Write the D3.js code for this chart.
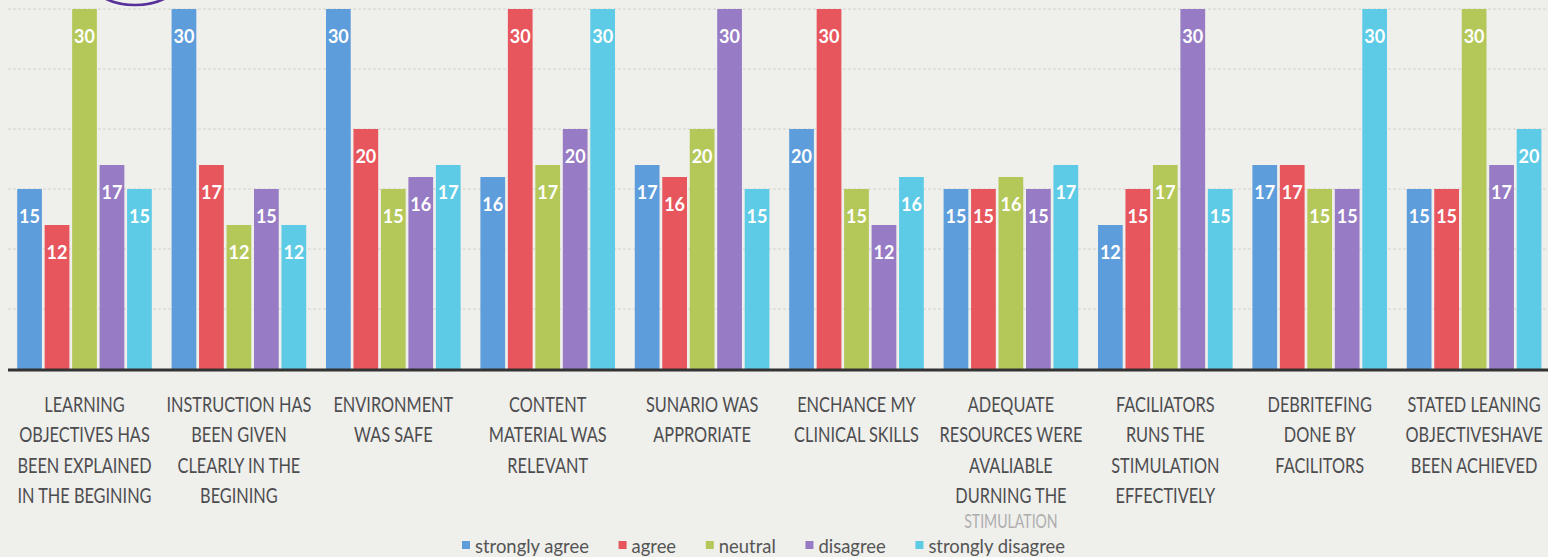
<!DOCTYPE html>
<html><head><meta charset="utf-8">
<script src="https://cdn.jsdelivr.net/npm/d3@7"></script>
<style>
html,body{margin:0;padding:0;background:#efefec;}
svg{display:block;}
</style></head>
<body>
<svg id="chart" width="1548" height="557"></svg>
<script>
const categories = [
  ["LEARNING","OBJECTIVES HAS","BEEN EXPLAINED","IN THE BEGINING"],
  ["INSTRUCTION HAS","BEEN GIVEN","CLEARLY IN THE","BEGINING"],
  ["ENVIRONMENT","WAS SAFE"],
  ["CONTENT","MATERIAL WAS","RELEVANT"],
  ["SUNARIO WAS","APPRORIATE"],
  ["ENCHANCE MY","CLINICAL SKILLS"],
  ["ADEQUATE","RESOURCES WERE","AVALIABLE","DURNING THE","STIMULATION"],
  ["FACILIATORS","RUNS THE","STIMULATION","EFFECTIVELY"],
  ["DEBRITEFING","DONE BY","FACILITORS"],
  ["STATED LEANING","OBJECTIVESHAVE","BEEN ACHIEVED"]
];
const seriesNames = ["strongly agree","agree","neutral","disagree","strongly disagree"];
const stronglyAgree    = [15,30,30,16,17,20,15,12,17,15];
const agree            = [12,17,20,30,16,30,15,15,17,15];
const neutral          = [30,12,15,17,20,15,16,17,15,30];
const disagree         = [17,15,16,20,30,12,15,30,15,17];
const stronglyDisagree = [15,12,17,30,15,16,17,15,30,20];
const yTicks = [5,10,15,20,25,30];

const seriesValues = [stronglyAgree, agree, neutral, disagree, stronglyDisagree];
const colors = ["#5e9ddb","#e7555d","#b4c85a","#977bc4","#5ecbe6"];

const svg = d3.select("#chart");
const catIdx = categories.map((d,i)=>i);

const x0 = d3.scaleBand().domain(catIdx).range([7.3, 1551.3]).paddingInner(0).paddingOuter(0);
const x1 = d3.scaleBand().domain(d3.range(seriesNames.length)).range([0, x0.bandwidth()])
  .paddingInner(0.1).paddingOuter(0.36);
const y = d3.scaleLinear().domain([0,30]).range([369, 9]);

// gridlines
svg.append("g").selectAll("line").data(yTicks).join("line")
  .attr("x1", 8).attr("x2", 1548)
  .attr("y1", d=>y(d)).attr("y2", d=>y(d))
  .attr("stroke", "#d2d2d0").attr("stroke-width", 1).attr("stroke-dasharray","3 2");

// pen mark at top
svg.append("ellipse").attr("cx",135).attr("cy",-22).attr("rx",46).attr("ry",27)
  .attr("fill","none").attr("stroke","#57309a").attr("stroke-width",2.6);

// bars
const groups = svg.append("g").selectAll("g").data(catIdx).join("g")
  .attr("transform", i=>`translate(${x0(i)},0)`);
groups.selectAll("rect").data(i=>seriesValues.map((s,k)=>({k, v:s[i]}))).join("rect")
  .attr("x", d=>x1(d.k)).attr("width", x1.bandwidth())
  .attr("y", d=>y(d.v)).attr("height", d=>y(0)-y(d.v))
  .attr("fill", d=>colors[d.k]);
groups.selectAll("text").data(i=>seriesValues.map((s,k)=>({k, v:s[i]}))).join("text")
  .attr("x", d=>x1(d.k)+x1.bandwidth()/2).attr("y", d=>y(d.v)+34)
  .attr("text-anchor","middle").attr("fill","#fff")
  .attr("font-family","Lato, 'Open Sans', sans-serif").attr("font-weight","bold").attr("font-size",18)
  .text(d=>d.v);

// baseline
svg.append("line").attr("x1",8).attr("x2",1548).attr("y1",y(0)+1).attr("y2",y(0)+1)
  .attr("stroke","#333").attr("stroke-width",3);

// category labels
const labelFont = "Lato, 'Open Sans', sans-serif";
const labG = svg.append("g");
const probe = labG.append("text").attr("font-family",labelFont).attr("font-size",22).text("INSTRUCTION HAS");
const sx = 145 / probe.node().getComputedTextLength();
probe.remove();
catIdx.forEach(i=>{
  const cx = x0(i) + x0.bandwidth()/2;
  const g = labG.append("g").attr("transform",`translate(${cx},0) scale(${sx},1)`);
  categories[i].forEach((line,j)=>{
    g.append("text").attr("x",0).attr("y",j===4 ? 528 : 412 + j*30.3)
      .attr("text-anchor","middle").attr("fill","#4d4d4f")
      .attr("font-family",labelFont).attr("font-size",j===4 ? 19 : 22)
      .attr("opacity", j===4 ? 0.4 : 1)
      .text(line);
  });
  const bb = g.node().getBoundingClientRect();
  if (bb.right > 1546) g.attr("transform",`translate(${cx-(bb.right-1546)},0) scale(${sx},1)`);
});

// legend
const legFont = 20;
const probe2 = svg.append("text").attr("font-family",labelFont).attr("font-size",legFont).text("strongly agree");
const lsx = 114 / probe2.node().getComputedTextLength();
probe2.remove();
const legG = svg.append("g");
const items = legG.selectAll("g").data(seriesNames).join("g");
items.append("rect").attr("width",8).attr("height",8).attr("y",-12).attr("fill",(d,k)=>colors[k]);
items.append("g").attr("transform",`translate(13,0) scale(${lsx},1)`)
  .append("text").attr("x",0).attr("y",0).attr("fill","#555")
  .attr("font-family",labelFont).attr("font-size",legFont)
  .text(d=>d);
const widths = [];
items.each(function(){ widths.push(this.getBBox().width); });
const span = 603;
const gap = (span - d3.sum(widths)) / (widths.length - 1);
let cur = 462; const pos = [];
widths.forEach(w=>{ pos.push(cur); cur += w + gap; });
items.attr("transform",(d,k)=>`translate(${pos[k]},553)`);
</script>
</body></html>
